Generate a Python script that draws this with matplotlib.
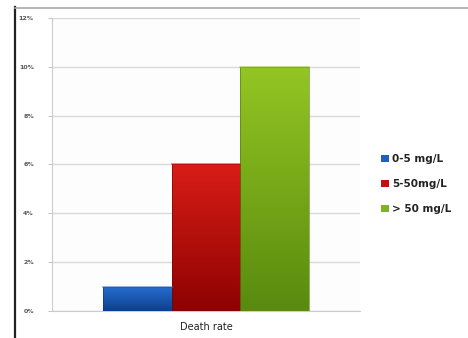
import numpy as np
import matplotlib
matplotlib.use("Agg")
import matplotlib.pyplot as plt
from matplotlib.colors import LinearSegmentedColormap
from matplotlib.lines import Line2D
from matplotlib.patches import Patch
from matplotlib.ticker import PercentFormatter

category = "Death rate"
groups = ["0-5 mg/L", "5-50mg/L", "> 50 mg/L"]
rates = [0.01, 0.06, 0.10]

# top colour, bottom colour for each bar's vertical gradient
shades = [("#2a6fd0", "#0b3f8f"), ("#d91d16", "#8c0202"), ("#93c623", "#5a8a0e")]
edges = ["#0a3680", "#7a0000", "#4e7a0c"]
swatch = ["#1f5fbf", "#c01010", "#80b41c"]

fig = plt.figure(figsize=(4.68, 3.38), dpi=100)
fig.patch.set_facecolor("white")
ax = fig.add_axes([0.111, 0.080, 0.658, 0.867])
ax.set_facecolor("#fdfdfd")

width = 0.223
offsets = [-width, 0.0, width]
for val, off, (top, bot), edge, name in zip(rates, offsets, shades, edges, groups):
    bar = ax.bar(off, val, width=width, color="none", edgecolor="none",
                 label=name, zorder=3)[0]
    cmap = LinearSegmentedColormap.from_list("g", [bot, top])
    grad = np.linspace(0, 1, 256).reshape(-1, 1)
    img = ax.imshow(grad, cmap=cmap, aspect="auto", origin="lower",
                    extent=[off - width / 2, off + width / 2, 0, val], zorder=3)
    img.set_clip_path(bar)
    # darker outline and a lighter rim along the top edge
    ax.bar(off, val, width=width, color="none", edgecolor=edge, lw=0.6,
           alpha=0.7, zorder=4)
    ax.plot([off - width / 2, off + width / 2], [val, val], color=top,
            lw=1.2, alpha=0.6, zorder=5)

ax.set_xlim(-0.5, 0.5)
ax.set_ylim(0, 0.12)
ax.set_yticks(np.arange(0, 0.121, 0.02))
ax.yaxis.set_major_formatter(PercentFormatter(1.0, decimals=0))
ax.set_xticks([0])
ax.set_xticklabels([category], fontsize=7, color="#222222")
ax.tick_params(axis="x", length=0, pad=8)
ax.tick_params(axis="y", length=3, width=0.6, color="#bbbbbb",
               labelsize=4.5, labelcolor="#555555", pad=10)
for lab in ax.get_yticklabels():
    lab.set_fontweight("bold")

ax.grid(axis="y", color="#d9d9d9", lw=1.0, zorder=0)
for side in ["top", "right"]:
    ax.spines[side].set_visible(False)
ax.spines["left"].set_color("#cccccc")
ax.spines["bottom"].set_color("#cccccc")
ax.spines["left"].set_linewidth(0.8)
ax.spines["bottom"].set_linewidth(0.8)

handles = [Patch(facecolor=c, edgecolor="none") for c in swatch]
fig.legend(handles, groups, loc="center left", bbox_to_anchor=(0.795, 0.455),
           frameon=False, fontsize=7.5, handlelength=0.7, handleheight=0.7,
           handletextpad=0.3, labelspacing=1.45, labelcolor="#222222",
           prop={"size": 7.5, "weight": "semibold"})

# outer border: dark line on the left, grey line across the top
fig.add_artist(Line2D([0.033, 0.033], [0.0, 0.978], color="#222222", lw=1.6,
                      transform=fig.transFigure))
fig.add_artist(Line2D([0.033, 1.0], [0.976, 0.976], color="#aaaaaa", lw=1.2,
                      transform=fig.transFigure))

fig.savefig("out.png", dpi=100, facecolor="white")
